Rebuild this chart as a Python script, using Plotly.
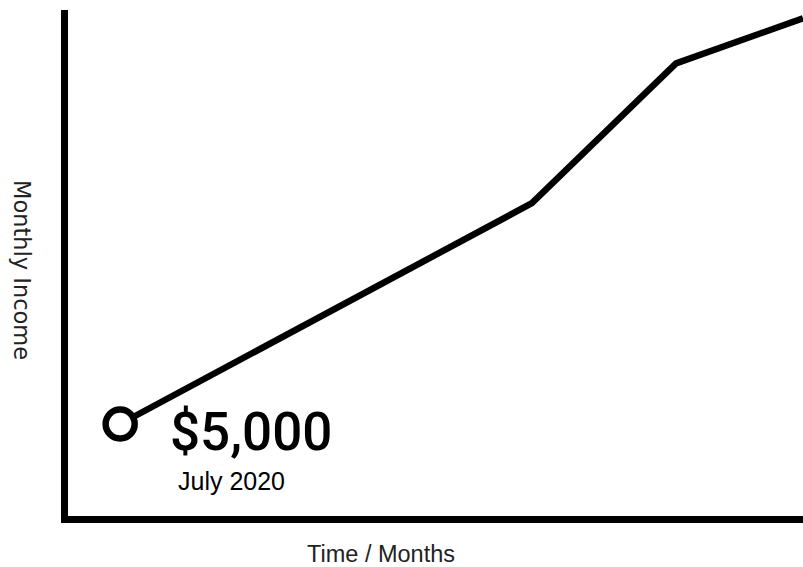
import plotly.graph_objects as go

# Monthly income over time (months since July 2020)
months = [0, 6, 8.1, 9.95]
income = [5000, 17000, 24600, 27050]
start_value_label = "$5,000"
start_date_label = "July 2020"
x_title = "Time / Months"
y_title = "Monthly Income"

fig = go.Figure()

# income line
fig.add_trace(go.Scatter(
    x=months, y=income, mode="lines",
    line=dict(color="black", width=6.5),
    hoverinfo="skip", showlegend=False,
))

# open circle at the starting point
fig.add_trace(go.Scatter(
    x=[months[0]], y=[income[0]], mode="markers",
    marker=dict(symbol="circle", size=29, color="white",
                line=dict(color="black", width=6.5)),
    cliponaxis=False, hoverinfo="skip", showlegend=False,
))

annotations = [
    dict(x=months[0], y=income[0], xref="x", yref="y",
         text=start_value_label, showarrow=False,
         xanchor="left", yanchor="middle", xshift=48, yshift=-8,
         font=dict(family="Roboto", size=53, color="black", weight=500)),
    dict(x=months[0], y=income[0], xref="x", yref="y",
         text=start_date_label, showarrow=False,
         xanchor="left", yanchor="middle", xshift=56, yshift=-57,
         font=dict(family="Liberation Sans", size=25, color="black")),
    dict(x=0, y=0.486, xref="paper", yref="paper",
         text=y_title, showarrow=False, textangle=90,
         xanchor="center", yanchor="middle", xshift=-46,
         font=dict(family="DejaVu Sans", size=22.5, color="#222")),
    dict(x=0.426, y=0, xref="paper", yref="paper",
         text=x_title, showarrow=False,
         xanchor="center", yanchor="middle", yshift=-38,
         font=dict(family="Liberation Sans", size=23.5, color="#222")),
]

fig.update_layout(
    width=803, height=567,
    margin=dict(l=68, r=0, t=10, b=51),
    paper_bgcolor="white", plot_bgcolor="white",
    annotations=annotations,
    xaxis=dict(range=[-0.76, 9.95], showgrid=False, zeroline=False,
               showticklabels=False, ticks="",
               showline=True, linecolor="black", linewidth=7),
    yaxis=dict(range=[0, 27500], showgrid=False, zeroline=False,
               showticklabels=False, ticks="",
               showline=True, linecolor="black", linewidth=7),
)

fig.write_html("out.html")
